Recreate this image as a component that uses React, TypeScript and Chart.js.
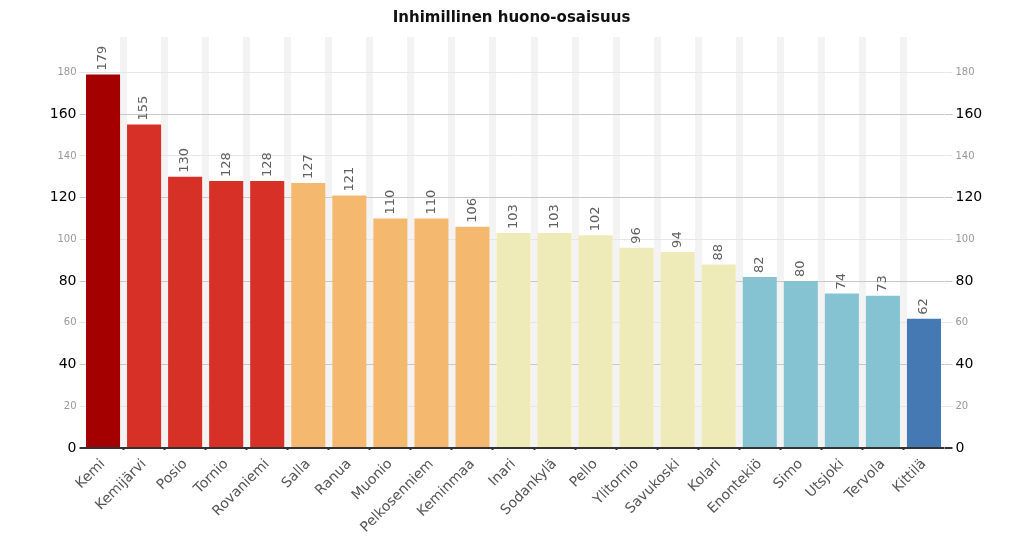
import React, { useEffect, useRef } from "react";
import { Chart, registerables } from "chart.js";

Chart.register(...registerables);

const title = "Inhimillinen huono-osaisuus";
const categories = [
  "Kemi", "Kemijärvi", "Posio", "Tornio", "Rovaniemi", "Salla", "Ranua", "Muonio",
  "Pelkosenniem", "Keminmaa", "Inari", "Sodankylä", "Pello", "Ylitornio", "Savukoski",
  "Kolari", "Enontekiö", "Simo", "Utsjoki", "Tervola", "Kittilä",
];
const values = [179, 155, 130, 128, 128, 127, 121, 110, 110, 106, 103, 103, 102, 96, 94, 88, 82, 80, 74, 73, 62];
const barColors = [
  "#a50000", "#d73027", "#d73027", "#d73027", "#d73027",
  "#f4b96f", "#f4b96f", "#f4b96f", "#f4b96f", "#f4b96f",
  "#efebb8", "#efebb8", "#efebb8", "#efebb8", "#efebb8", "#efebb8",
  "#86c3d2", "#86c3d2", "#86c3d2", "#86c3d2",
  "#4579b4",
];
const yTickValues = [0, 20, 40, 60, 80, 100, 120, 140, 160, 180];
const yMax = 197;

const FONT = "'DejaVu Sans', Verdana, sans-serif";

export default function App() {
  const ref = useRef<HTMLCanvasElement>(null);

  useEffect(() => {
    if (!ref.current) return;
    const n = categories.length;

    const valueLabels = {
      id: "valueLabels",
      afterDatasetsDraw(chart: any) {
        const ctx = chart.ctx;
        const meta = chart.getDatasetMeta(0);
        ctx.save();
        ctx.font = `13px ${FONT}`;
        ctx.fillStyle = "#606060";
        ctx.textAlign = "left";
        ctx.textBaseline = "middle";
        meta.data.forEach((bar: any, i: number) => {
          ctx.save();
          ctx.translate(bar.x, bar.y - 4);
          ctx.rotate(-Math.PI / 2);
          ctx.fillText(String(values[i]), 0, 0);
          ctx.restore();
        });
        ctx.restore();
      },
    };

    const isMajor = (v: number) => v % 40 === 0;
    const setTicks = (scale: any) => {
      scale.ticks = yTickValues.map((v) => ({ value: v }));
    };
    const gridColor = (c: any) => {
      const v = c.tick?.value;
      if (v === 0) return "#333";
      return isMajor(v) ? "#c8c8c8" : "#e6e6e6";
    };
    const gridWidth = (c: any) => (c.tick?.value === 0 ? 2 : 1);
    const tickFont = (c: any) => ({ family: FONT, size: isMajor(c.tick?.value) ? 14 : 10 });
    const tickColor = (c: any) => (isMajor(c.tick?.value) ? "#000" : "#999");
    const innerGap = (c: any) =>
      c.type === "tick" && typeof c.index === "number" && c.index > 0 && c.index < n;

    const chart = new Chart(ref.current, {
      type: "bar",
      data: {
        labels: categories,
        datasets: [
          {
            data: values,
            backgroundColor: barColors,
            barPercentage: 0.83,
            categoryPercentage: 1,
            yAxisID: "y",
          },
        ],
      },
      plugins: [valueLabels],
      options: {
        responsive: false,
        animation: false,
        layout: { padding: 0 },
        plugins: {
          legend: { display: false },
          tooltip: { enabled: false },
          title: {
            display: true,
            text: title,
            color: "#111",
            font: { family: FONT, size: 15, weight: "bold" },
            padding: { top: 9, bottom: 10 },
          },
        },
        scales: {
          x: {
            offset: true,
            border: { display: false },
            grid: {
              offset: true,
              drawOnChartArea: true,
              color: (c: any) => (innerGap(c) ? "#f3f3f3" : "rgba(0,0,0,0)"),
              lineWidth: 7,
              tickLength: 2,
              tickWidth: 2,
              tickColor: (c: any) => (innerGap(c) ? "#333" : "rgba(0,0,0,0)"),
            },
            ticks: {
              minRotation: 45,
              maxRotation: 45,
              autoSkip: false,
              color: "#555",
              font: { family: FONT, size: 14 },
              padding: 6,
            },
            afterFit: (s: any) => {
              s.height = 98;
            },
          },
          y: {
            position: "left",
            min: 0,
            max: yMax,
            border: { display: false },
            afterBuildTicks: setTicks,
            grid: {
              color: gridColor,
              lineWidth: gridWidth,
              tickLength: 3,
              tickColor: gridColor,
              tickWidth: gridWidth,
            },
            ticks: {
              font: tickFont,
              color: tickColor,
              padding: 3,
            },
            afterFit: (s: any) => {
              s.width = 82.5;
            },
          },
          y2: {
            position: "right",
            min: 0,
            max: yMax,
            border: { display: false },
            afterBuildTicks: setTicks,
            grid: {
              drawOnChartArea: false,
              color: gridColor,
              lineWidth: gridWidth,
              tickLength: 8,
              tickColor: gridColor,
              tickWidth: gridWidth,
            },
            ticks: {
              font: tickFont,
              color: tickColor,
              padding: 3,
            },
            afterFit: (s: any) => {
              s.width = 78.5;
            },
          },
        },
      },
    } as any);

    return () => chart.destroy();
  }, []);

  return (
    <div style={{ position: "fixed", left: 0, top: 0, width: 1023, height: 546, background: "#fff" }}>
      <canvas ref={ref} width={1023} height={546} style={{ display: "block" }} />
    </div>
  );
}
